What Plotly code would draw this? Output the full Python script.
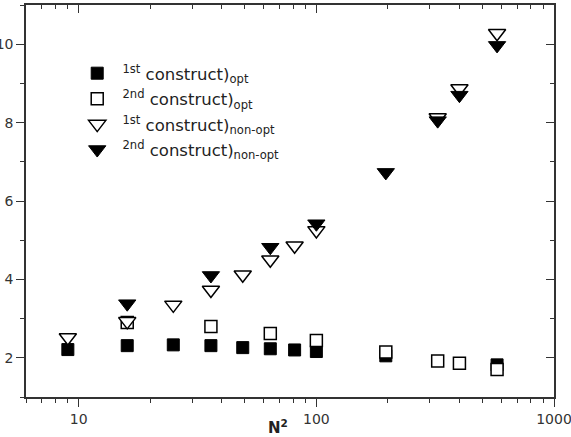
import numpy as np
import plotly.graph_objects as go

# ---- data ----
n2_first_opt = [9, 16, 25, 36, 49, 64, 81, 100, 196, 576]
first_opt = [2.21, 2.31, 2.33, 2.31, 2.26, 2.23, 2.20, 2.16, 2.05, 1.82]

n2_second_opt = [16, 36, 64, 100, 196, 324, 400, 576]
second_opt = [2.90, 2.80, 2.62, 2.44, 2.15, 1.92, 1.86, 1.70]

n2_first_nonopt = [9, 16, 25, 36, 49, 64, 81, 100, 324, 400, 576]
first_nonopt = [2.52, 2.93, 3.35, 3.73, 4.12, 4.50, 4.86, 5.25, 8.13, 8.87, 10.28]

n2_second_nonopt = [16, 36, 64, 100, 196, 324, 400, 576]
second_nonopt = [3.38, 4.10, 4.82, 5.42, 6.73, 8.05, 8.70, 9.97]

names = [
    "&nbsp;<sup>1st</sup> construct)<sub>opt</sub>",
    "&nbsp;<sup>2nd</sup> construct)<sub>opt</sub>",
    "&nbsp;<sup>1st</sup> construct)<sub>non-opt</sub>",
    "&nbsp;<sup>2nd</sup> construct)<sub>non-opt</sub>",
]

x_ticks = [10, 100, 1000]
x_minor = [6, 7, 8, 9, 20, 30, 40, 50, 60, 70, 80, 90,
           200, 300, 400, 500, 600, 700, 800, 900]
y_ticks = [2, 4, 6, 8, 10]
y_minor = [1, 3, 5, 7, 9, 11]

fig = go.Figure()
fig.add_trace(go.Scatter(x=n2_first_opt, y=first_opt, mode="markers", name=names[0],
                         legendgroup="a",
                         marker=dict(symbol="square", size=12, color="black",
                                     line=dict(color="black", width=1))))
fig.add_trace(go.Scatter(x=n2_second_opt, y=second_opt, mode="markers", name=names[1],
                         legendgroup="b",
                         marker=dict(symbol="square", size=12, color="white",
                                     line=dict(color="black", width=1.5))))
fig.add_trace(go.Scatter(x=n2_first_nonopt, y=first_nonopt, mode="markers", name=names[2],
                         legendgroup="c",
                         marker=dict(symbol="triangle-down", size=15, color="white",
                                     line=dict(color="black", width=1.5))))
fig.add_trace(go.Scatter(x=n2_second_nonopt, y=second_nonopt, mode="markers", name=names[3],
                         legendgroup="d",
                         marker=dict(symbol="triangle-down", size=15, color="black",
                                     line=dict(color="black", width=1))))

axis_color = "#333333"
tickfont = dict(family="DejaVu Sans, Arial", size=14, color="#333333")

fig.update_layout(
    width=571, height=437,
    margin=dict(l=26, r=17, t=5, b=40),
    paper_bgcolor="white", plot_bgcolor="white",
    showlegend=True,
    legend=dict(x=0.097, y=0.87, xanchor="left", yanchor="top",
                bgcolor="rgba(0,0,0,0)",
                font=dict(family="DejaVu Sans, Arial", size=16.5, color="#222222"),
                tracegroupgap=1, itemsizing="trace"),
    xaxis=dict(type="log", range=[np.log10(6), 3], showgrid=False, zeroline=False,
               automargin=False, ticklabeloverflow="allow",
               showline=True, linecolor=axis_color, linewidth=1.5, mirror=True,
               ticks="outside", ticklen=8, tickwidth=1.2, tickcolor=axis_color,
               tickvals=x_ticks, ticktext=[str(v) for v in x_ticks], tickfont=tickfont,
               minor=dict(tickvals=x_minor, ticks="outside", ticklen=4,
                          tickwidth=1.2, tickcolor=axis_color, showgrid=False)),
    yaxis=dict(range=[1, 11], showgrid=False, zeroline=False,
               automargin=False, ticklabeloverflow="allow",
               showline=True, linecolor=axis_color, linewidth=1.5, mirror=True,
               ticks="outside", ticklen=8, tickwidth=1.2, tickcolor=axis_color,
               tickvals=y_ticks, tickfont=tickfont,
               minor=dict(tickvals=y_minor, ticks="outside", ticklen=4,
                          tickwidth=1.2, tickcolor=axis_color, showgrid=False)),
    xaxis2=dict(type="log", range=[np.log10(6), 3], overlaying="x", side="top",
                automargin=False,
                showgrid=False, zeroline=False, showline=False, showticklabels=False,
                ticks="inside", ticklen=8, tickwidth=1.2, tickcolor=axis_color,
                tickvals=x_ticks,
                minor=dict(tickvals=x_minor, ticks="inside", ticklen=4,
                           tickwidth=1.2, tickcolor=axis_color, showgrid=False)),
    yaxis2=dict(range=[1, 11], overlaying="y", side="right",
                automargin=False,
                showgrid=False, zeroline=False, showline=False, showticklabels=False,
                ticks="inside", ticklen=8, tickwidth=1.2, tickcolor=axis_color,
                tickvals=y_ticks,
                minor=dict(tickvals=y_minor, ticks="inside", ticklen=4,
                           tickwidth=1.2, tickcolor=axis_color, showgrid=False)),
)

# invisible trace to anchor the top/right tick axes
fig.add_trace(go.Scatter(x=[10], y=[5], xaxis="x2", yaxis="y2", mode="markers",
                         marker=dict(opacity=0), showlegend=False, hoverinfo="skip"))

fig.add_annotation(text="<b>N<sup>2</sup></b>", xref="paper", yref="paper",
                   x=0.477, y=-0.077, xanchor="center", yanchor="middle", showarrow=False,
                   font=dict(family="DejaVu Sans, Arial", size=15, color="#222222"))

fig.write_html("out.html")
